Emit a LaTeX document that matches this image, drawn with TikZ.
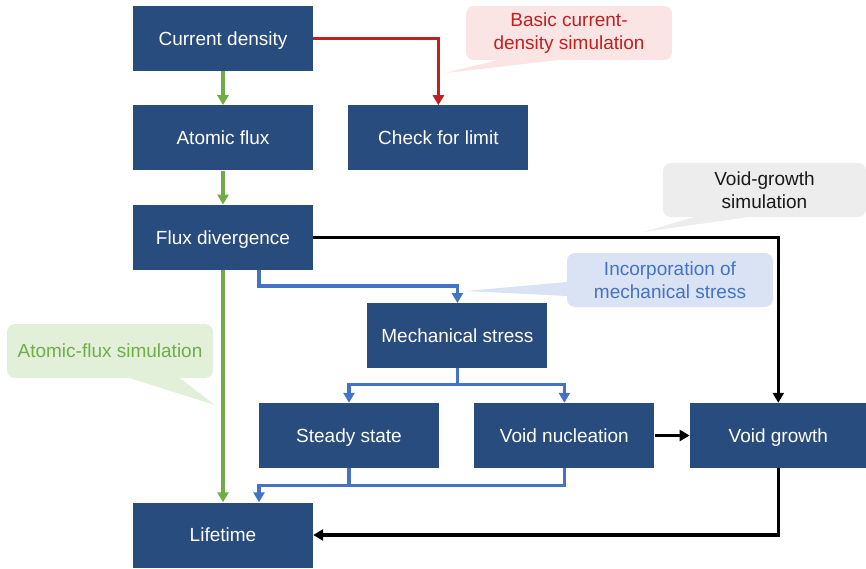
\documentclass[tikz,border=0pt]{standalone}
\usepackage{fontspec}
\setmainfont{Liberation Sans}
\usetikzlibrary{arrows.meta, positioning}
\definecolor{boxblue}{RGB}{41,76,127}
\definecolor{redline}{RGB}{192,32,32}
\definecolor{greenline}{RGB}{112,173,71}
\definecolor{blueline}{RGB}{68,114,196}
\definecolor{rednote}{RGB}{251,228,228}
\definecolor{greynote}{RGB}{237,237,237}
\definecolor{bluenote}{RGB}{218,227,243}
\definecolor{greennote}{RGB}{226,240,217}
\tikzstyle{block} = [rectangle, minimum width=180pt, minimum height=65pt, inner sep=0pt, text height=13.7pt, text depth=0pt, text centered, fill=boxblue, text=white, font=\fontsize{19}{23}\selectfont]
\tikzstyle{note} = [rectangle, rounded corners=8pt, minimum width=206pt, minimum height=54pt, inner sep=0pt, align=center, font=\fontsize{19}{23}\selectfont]
\tikzstyle{arrow} = [line width=3.1pt, -{Triangle[width=11pt,length=10pt]}]
\tikzstyle{thickarrow} = [line width=3.5pt, -{Triangle[width=11pt,length=10pt]}]
\tikzstyle{link} = [line width=3.1pt]

\begin{document}
\begin{tikzpicture}[x=1pt, y=-1pt]
\useasboundingbox (0,0) rectangle (866,569);

\node (density) [block] at (223,38.5) {Current density};
\node (flux) [block, below=34pt of density] {Atomic flux};
\node (limit) [block, right=35pt of flux] {Check for limit};
\node (divergence) [block, below=34pt of flux] {Flux divergence};
\node (stress) [block, below right=33pt and 54pt of divergence] {Mechanical stress};
\node (steady) [block] at (349,435.5) {Steady state};
\node (nucleation) [block, right=35pt of steady] {Void nucleation};
\node (growth) [block, minimum width=177pt, right=35pt of nucleation] {Void growth};
\node (lifetime) [block] at (223,535) {Lifetime};

% simulation callouts
\node (basicnote) [note, fill=rednote, text=redline] at (569,33) {Basic current-\\density simulation};
\coordinate (basictip) at (445,73);
\fill [rednote] ([xshift=-72pt]basicnote.south) -- (basictip) -- ([xshift=-12pt]basicnote.south) -- cycle;

\node (voidnote) [note, minimum width=203pt, fill=greynote, text=black!90] at (764.5,190) {Void-growth\\simulation};
\coordinate (voidtip) at (643,232);
\fill [greynote] ([xshift=-71pt]voidnote.south) -- (voidtip) -- ([xshift=-17pt]voidnote.south) -- cycle;

\node (stressnote) [note, fill=bluenote, text=blueline] at (670,280) {Incorporation of\\mechanical stress};
\coordinate (stresstip) at (466,291);
\fill [bluenote] ([yshift=-2pt]stressnote.west) -- (stresstip) -- ([yshift=-16pt]stressnote.west) -- cycle;

\node (fluxnote) [note, fill=greennote, text=greenline] at (110,351) {Atomic-flux simulation};
\coordinate (fluxtip) at (215,405);
\fill [greennote] ([xshift=20pt]fluxnote.south) -- (fluxtip) -- ([xshift=70pt]fluxnote.south) -- cycle;

% green chain
\draw [arrow, greenline] (density) -- (flux);
\draw [arrow, greenline] (flux) -- (divergence);
\draw [arrow, greenline] (divergence) -- (lifetime);

% red branch
\draw [thickarrow, redline] (density.east) -| (limit.north);

% blue branches
\draw [arrow, blueline] ([xshift=36pt]divergence.south) -- ++(0,16) -| (stress.north);
\draw [arrow, blueline] (stress.south) -- ++(0,16) -| (steady.north);
\draw [arrow, blueline] (stress.south) -- ++(0,16) -| (nucleation.north);
\draw [link, blueline] (steady.south) -- ++(0,17);
\draw [arrow, blueline] (nucleation.south) -- ++(0,17) -| ([xshift=36pt]lifetime.north);

% black branches
\draw [thickarrow, black] (divergence.east) -| (growth.north);
\draw [thickarrow, black] (nucleation) -- (growth);
\draw [thickarrow, black] (growth.south) |- (lifetime.east);
\end{tikzpicture}
\end{document}
